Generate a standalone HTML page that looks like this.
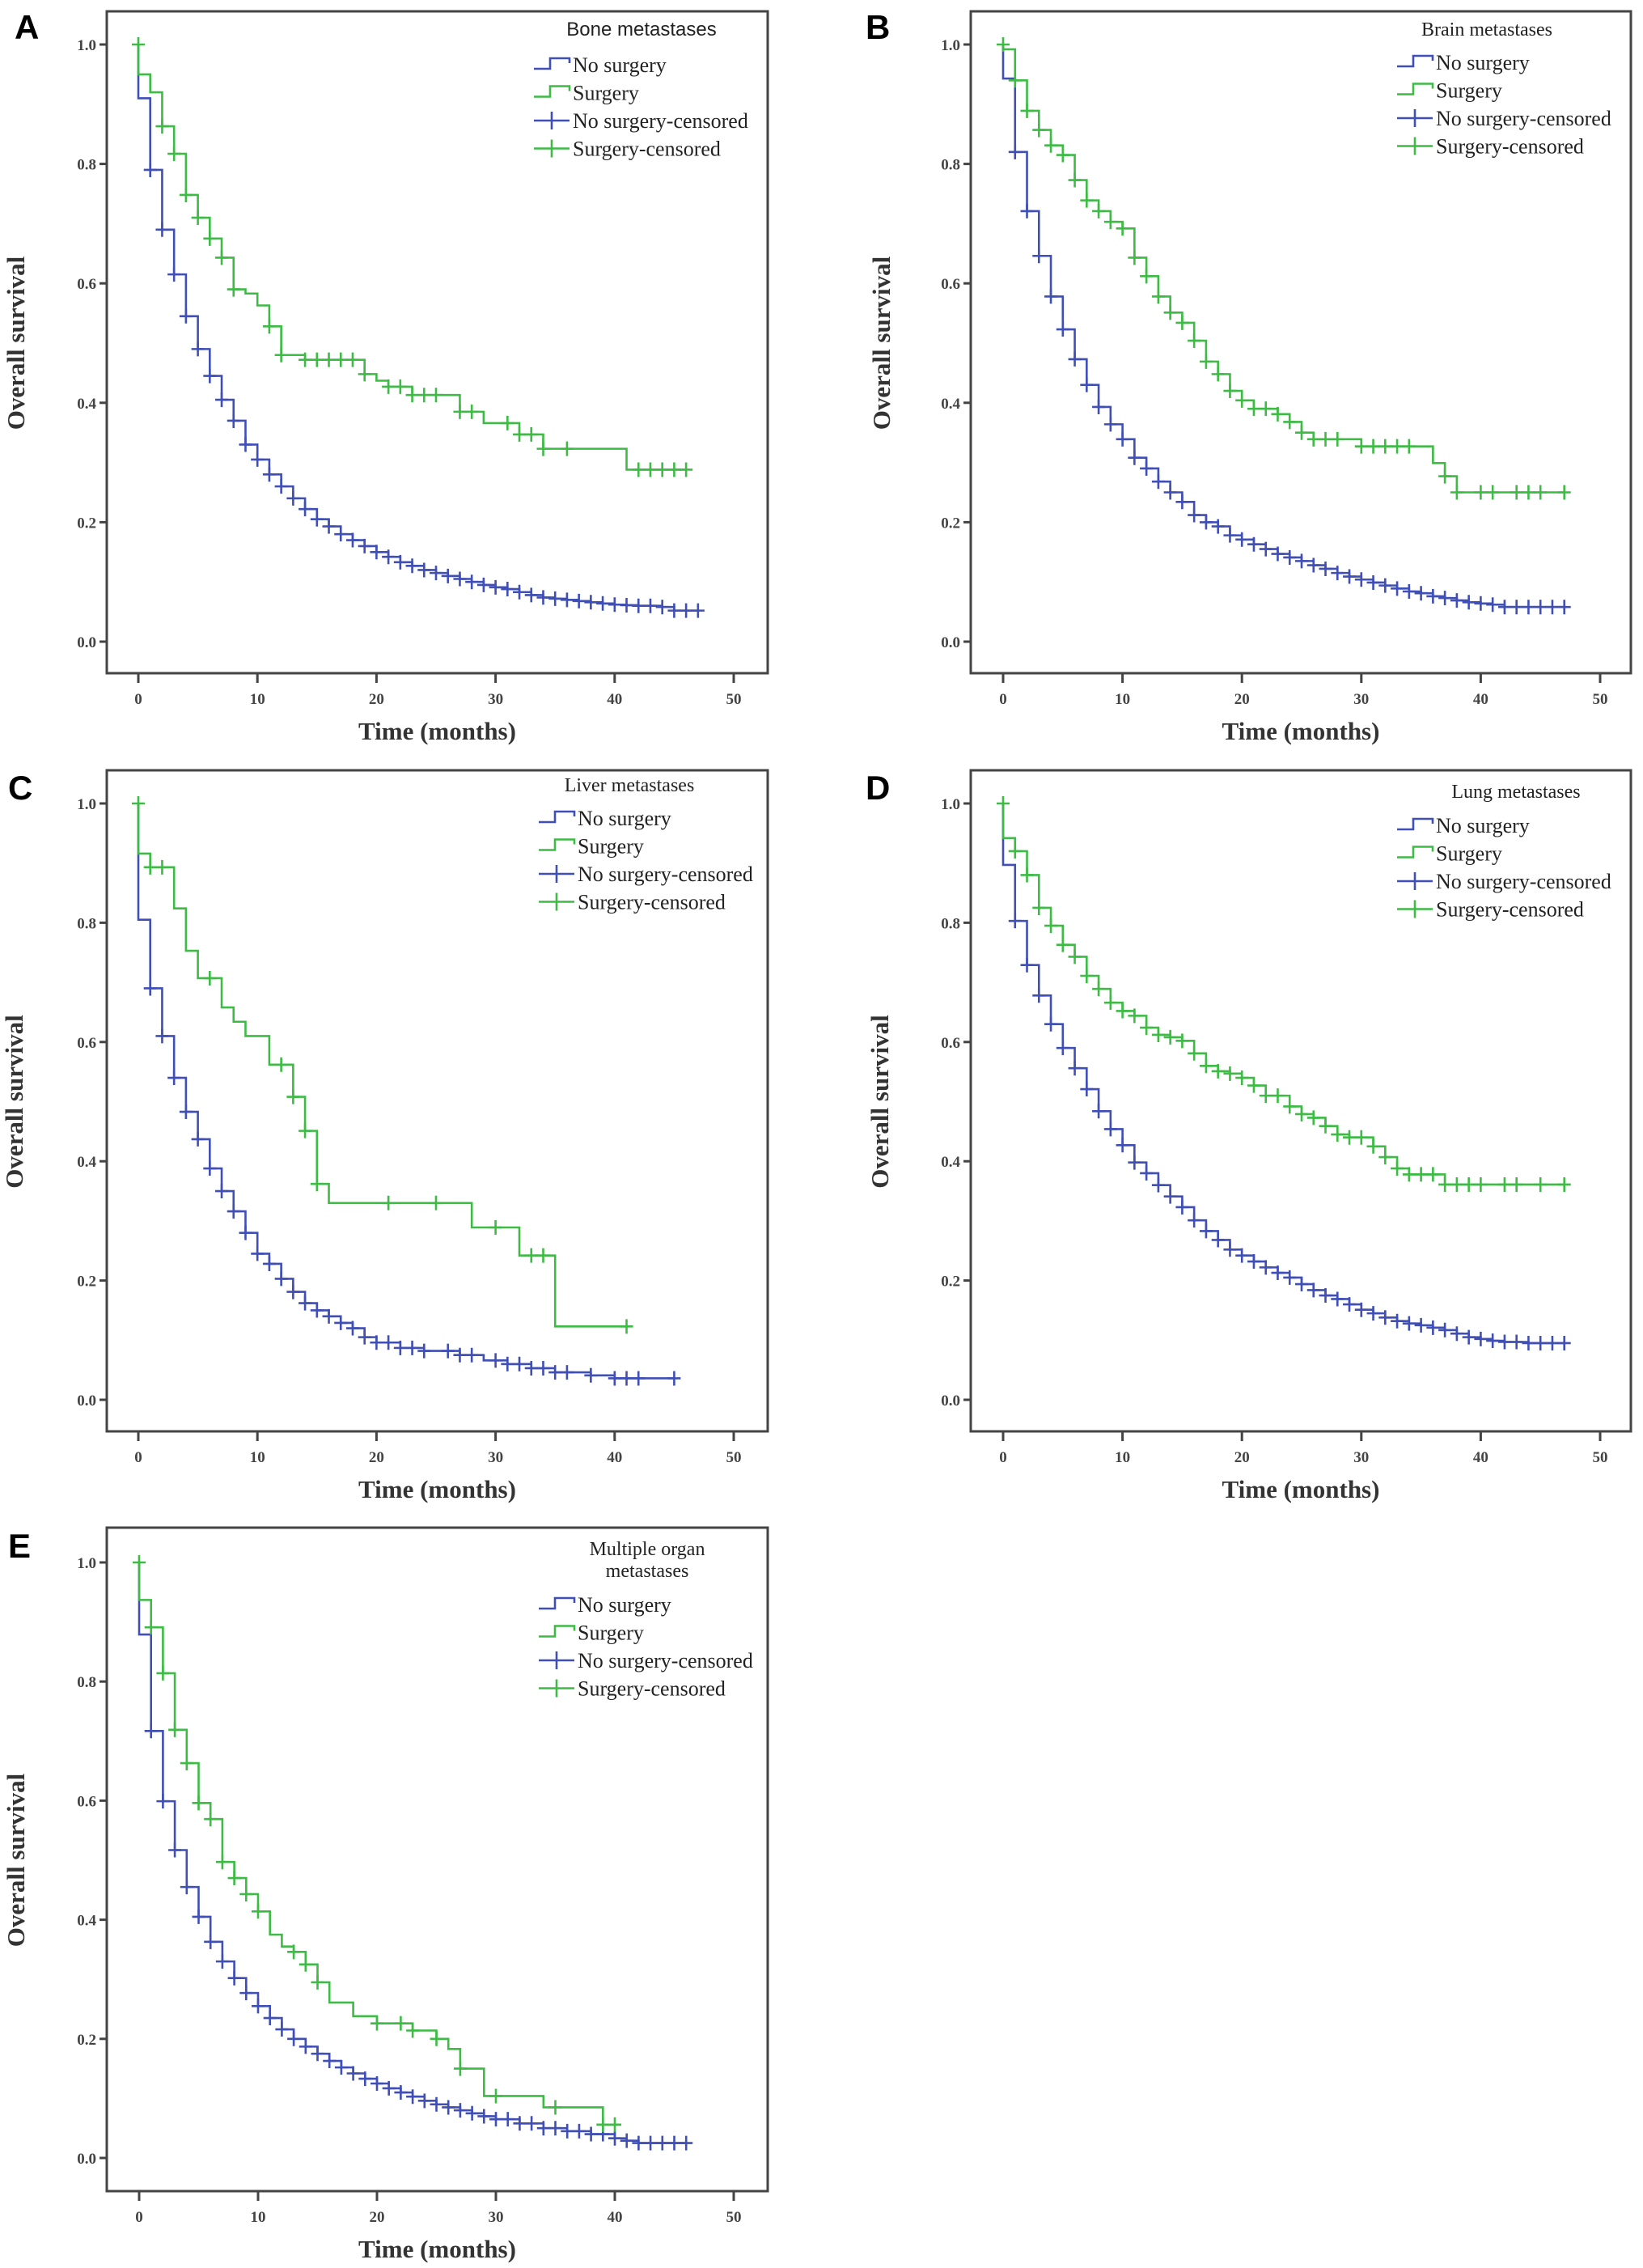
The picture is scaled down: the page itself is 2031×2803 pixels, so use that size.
<!DOCTYPE html>
<html><head><meta charset="utf-8">
<style>
html,body{margin:0;padding:0;background:#fff;}
svg{display:block;}
.tick{font-family:"Liberation Serif",serif;font-weight:bold;font-size:19px;fill:#444;}
.ttl{font-family:"Liberation Serif",serif;font-weight:bold;font-size:31px;fill:#333;}
.leg{font-family:"Liberation Serif",serif;font-size:26px;fill:#222;}
.lt{font-family:"Liberation Serif",serif;font-size:24px;fill:#222;}
.lts{font-family:"Liberation Sans",sans-serif;font-size:24px;fill:#222;}
.pl{font-family:"Liberation Sans",sans-serif;font-weight:bold;font-size:42px;fill:#000;}
</style></head>
<body>
<svg id="fig" width="2031" height="2803" viewBox="0 0 2031 2803" xmlns="http://www.w3.org/2000/svg"></svg>
<script>
// ---- data ----
const xTicks = [0,10,20,30,40,50];
const yTicks = [0,0.2,0.4,0.6,0.8,1.0];
const legendLabels = ["No surgery","Surgery","No surgery-censored","Surgery-censored"];
const panelTitles = [["Bone metastases"],["Brain metastases"],["Liver metastases"],["Lung metastases"],["Multiple organ","metastases"]];

// Panel A
const aNoT = [0,1,2,3,4,5,6,7,8,9,10,11,12,13,14,15,16,17,18,19,20,21,22,23,24,25,26,27,28,29,30,31,32,33,34,35,36,37,38,39,40,41,42,44,45];
const aNoS = [0.91,0.79,0.69,0.615,0.545,0.49,0.445,0.405,0.37,0.33,0.305,0.28,0.26,0.24,0.222,0.205,0.193,0.18,0.17,0.16,0.15,0.142,0.133,0.127,0.12,0.115,0.11,0.105,0.10,0.095,0.091,0.088,0.083,0.078,0.074,0.072,0.07,0.068,0.066,0.064,0.062,0.061,0.06,0.058,0.052];
const aNoEnd = 47;
const aNoC = [1,2,3,4,5,6,7,8,9,10,11,12,13,14,15,16,17,18,19,20,21,22,23,24,25,26,27,28,29,30,31,32,33,34,35,36,37,38,39,40,41,42,43,44,45,46,47];
const aSuT = [0,1,2,3,4,5,6,7,8,9,10,11,12,14,19,20,21,23,27,29,32,34,41];
const aSuS = [0.95,0.92,0.863,0.817,0.748,0.71,0.675,0.643,0.59,0.583,0.563,0.528,0.48,0.472,0.448,0.437,0.427,0.413,0.385,0.366,0.347,0.323,0.288];
const aSuEnd = 46;
const aSuC = [0,2,3,4,5,6,7,8,11,12,14,15,16,17,18,19,21,22,23,24,25,27,28,31,32,33,34,36,42,43,44,45,46];

// Panel B
const bNoT = [0,1,2,3,4,5,6,7,8,9,10,11,12,13,14,15,16,17,18,19,20,21,22,23,24,25,26,27,28,29,30,31,32,33,34,35,36,37,38,39,40,41,42];
const bNoS = [0.943,0.82,0.721,0.646,0.578,0.523,0.473,0.43,0.393,0.364,0.339,0.308,0.29,0.268,0.25,0.234,0.212,0.2,0.193,0.178,0.171,0.163,0.155,0.147,0.141,0.135,0.128,0.122,0.115,0.109,0.104,0.099,0.094,0.089,0.084,0.081,0.076,0.073,0.069,0.066,0.064,0.062,0.058];
const bNoEnd = 47;
const bNoC = [1,2,3,4,5,6,7,8,9,10,11,12,13,14,15,16,17,18,19,20,21,22,23,24,25,26,27,28,29,30,31,32,33,34,35,36,37,38,39,40,41,42,43,44,45,46,47];
const bSuT = [0,1,2,3,4,5,6,7,8,9,10,11,12,13,14,15,16,17,18,19,20,21,23,24,25,26,30,36,37,38];
const bSuS = [0.992,0.94,0.889,0.857,0.831,0.815,0.773,0.739,0.721,0.703,0.692,0.643,0.612,0.578,0.551,0.534,0.504,0.469,0.448,0.42,0.404,0.39,0.381,0.368,0.35,0.339,0.327,0.299,0.277,0.25];
const bSuEnd = 47;
const bSuC = [0,1,2,3,4,5,6,7,8,9,10,11,12,13,14,15,16,17,18,19,20,21,22,23,24,25,26,27,28,30,31,32,33,34,37,38,40,41,43,44,45,47];

// Panel C
const cNoT = [0,1,2,3,4,5,6,7,8,9,10,11,12,13,14,15,16,17,18,19,20,22,24,27,29,31,33,35,38,40];
const cNoS = [0.805,0.69,0.61,0.54,0.483,0.437,0.388,0.35,0.316,0.28,0.245,0.228,0.203,0.181,0.162,0.15,0.14,0.129,0.12,0.105,0.096,0.087,0.082,0.075,0.066,0.06,0.053,0.046,0.041,0.036];
const cNoEnd = 45;
const cNoC = [1,2,3,4,5,6,7,8,9,10,11,12,13,14,15,16,17,18,19,20,21,22,23,24,26,27,28,30,31,32,33,34,35,36,38,40,41,42,45];
const cSuT = [0,1,3,4,5,7,8,9,11,13,14,15,16,28,32,35];
const cSuS = [0.916,0.893,0.824,0.753,0.707,0.658,0.634,0.61,0.562,0.508,0.451,0.362,0.33,0.289,0.242,0.123];
const cSuEnd = 41;
const cSuC = [0,1,2,6,12,13,14,15,21,25,30,33,34,41];

// Panel D
const dNoT = [0,1,2,3,4,5,6,7,8,9,10,11,12,13,14,15,16,17,18,19,20,21,22,23,24,25,26,27,28,29,30,31,32,33,34,35,36,37,38,39,40,41,42,44];
const dNoS = [0.897,0.803,0.729,0.678,0.63,0.59,0.556,0.521,0.484,0.454,0.427,0.398,0.38,0.36,0.341,0.323,0.301,0.283,0.268,0.252,0.242,0.232,0.222,0.213,0.205,0.194,0.184,0.175,0.169,0.16,0.151,0.145,0.138,0.132,0.128,0.125,0.121,0.117,0.111,0.105,0.102,0.099,0.097,0.095];
const dNoEnd = 47;
const dNoC = [1,2,3,4,5,6,7,8,9,10,11,12,13,14,15,16,17,18,19,20,21,22,23,24,25,26,27,28,29,30,31,32,33,34,35,36,37,38,39,40,41,42,43,44,45,46,47];
const dSuT = [0,1,2,3,4,5,6,7,8,9,10,11,12,13,14,15,16,17,18,19,20,21,22,24,25,26,27,28,29,31,32,33,34,37];
const dSuS = [0.942,0.92,0.88,0.825,0.795,0.763,0.743,0.711,0.689,0.666,0.652,0.644,0.624,0.612,0.608,0.602,0.581,0.56,0.551,0.547,0.54,0.527,0.51,0.492,0.479,0.473,0.459,0.445,0.44,0.425,0.407,0.388,0.378,0.361];
const dSuEnd = 47;
const dSuC = [0,1,2,3,4,5,6,7,8,9,10,11,12,13,14,15,16,17,18,19,20,21,22,23,24,25,26,27,28,29,30,31,32,33,34,35,36,37,38,39,40,42,43,45,47];

// Panel E
const eNoT = [0,1,2,3,4,5,6,7,8,9,10,11,12,13,14,15,16,17,18,19,20,21,22,23,24,25,26,27,28,29,30,32,34,36,38,40,41,42];
const eNoS = [0.879,0.717,0.599,0.517,0.455,0.405,0.363,0.33,0.302,0.277,0.255,0.235,0.216,0.2,0.187,0.175,0.163,0.152,0.142,0.133,0.125,0.117,0.11,0.103,0.096,0.09,0.085,0.08,0.075,0.07,0.065,0.058,0.05,0.045,0.04,0.033,0.029,0.025];
const eNoEnd = 46;
const eNoC = [1,2,3,4,5,6,7,8,9,10,11,12,13,14,15,16,17,18,19,20,21,22,23,24,25,26,27,28,29,30,31,32,33,34,35,36,37,38,39,40,41,42,43,44,45,46];
const eSuT = [0,1,2,3,4,5,6,7,8,9,10,11,12,13,14,15,16,18,20,23,25,26,27,29,34,39];
const eSuS = [0.937,0.891,0.814,0.719,0.663,0.596,0.569,0.497,0.47,0.443,0.414,0.375,0.355,0.346,0.325,0.295,0.261,0.238,0.226,0.214,0.2,0.183,0.15,0.104,0.085,0.056];
const eSuEnd = 40;
const eSuC = [0,1,2,3,4,5,6,7,8,9,10,13,14,15,20,22,23,25,27,30,35,39,40];

// ---- layout ----
const panels = [
 {letter:"A",bx:132,by:14,bw:817,bh:818,x0:171,x50:907,y1:55,y0:793,lx:18,ly:48,ytx:30,legX:660,legY:80,ttlX:793,ttlY:44,sans:true,
  no:[aNoT,aNoS,aNoEnd,aNoC],su:[aSuT,aSuS,aSuEnd,aSuC]},
 {letter:"B",bx:1200,by:14,bw:816,bh:818,x0:1240,x50:1978,y1:55,y0:793,lx:1070,ly:48,ytx:1100,legX:1727,legY:77,ttlX:1838,ttlY:44,
  no:[bNoT,bNoS,bNoEnd,bNoC],su:[bSuT,bSuS,bSuEnd,bSuC]},
 {letter:"C",bx:132,by:952,bw:817,bh:817,x0:171,x50:907,y1:993,y0:1730,lx:10,ly:988,ytx:28,legX:666,legY:1011,ttlX:778,ttlY:978,
  no:[cNoT,cNoS,cNoEnd,cNoC],su:[cSuT,cSuS,cSuEnd,cSuC]},
 {letter:"D",bx:1200,by:952,bw:816,bh:817,x0:1240,x50:1978,y1:993,y0:1730,lx:1070,ly:988,ytx:1098,legX:1727,legY:1020,ttlX:1874,ttlY:986,
  no:[dNoT,dNoS,dNoEnd,dNoC],su:[dSuT,dSuS,dSuEnd,dSuC]},
 {letter:"E",bx:132,by:1888,bw:817,bh:820,x0:172,x50:907,y1:1931,y0:2667,lx:10,ly:1925,ytx:30,legX:666,legY:1983,ttlX:800,ttlY:1922,
  no:[eNoT,eNoS,eNoEnd,eNoC],su:[eSuT,eSuS,eSuEnd,eSuC]}
];
const BLUE="#3f4fb5", GREEN="#3dbb45";
const NS="http://www.w3.org/2000/svg";
const svg=document.getElementById('fig');
function mk(tag,attrs,parent){const e=document.createElementNS(NS,tag);for(const k in attrs)e.setAttribute(k,attrs[k]);(parent||svg).appendChild(e);return e;}

function valueAt(T,S,t){let v=1;for(let i=0;i<T.length;i++){if(T[i]<=t)v=S[i];}return v;}

panels.forEach((p,pi)=>{
  const g=mk('g',{});
  
  
  const sx=t=>p.x0+(p.x50-p.x0)*t/50;
  const sy=v=>p.y0+(p.y1-p.y0)*v;
  const box=mk('rect',{x:p.bx,y:p.by,width:p.bw,height:p.bh,fill:'none',stroke:'#444','stroke-width':3},g);
  
  
  const lt=mk('text',{x:p.lx,y:p.ly,class:'pl'},g);lt.textContent=p.letter;
  
  
  yTicks.forEach(v=>{
    mk('line',{x1:p.bx-9,x2:p.bx,y1:sy(v),y2:sy(v),stroke:'#444','stroke-width':3},g);
    const t=mk('text',{x:p.bx-13,y:sy(v)+7,class:'tick','text-anchor':'end'},g);t.textContent=v.toFixed(1);
    
    
  });
  xTicks.forEach(v=>{
    mk('line',{x1:sx(v),x2:sx(v),y1:p.by+p.bh,y2:p.by+p.bh+12,stroke:'#444','stroke-width':3},g);
    const t=mk('text',{x:sx(v),y:p.by+p.bh+38,class:'tick','text-anchor':'middle'},g);t.textContent=v;
    
    
  });
  const xt=mk('text',{x:(p.bx+p.bw/2),y:p.by+p.bh+82,class:'ttl','text-anchor':'middle'},g);xt.textContent='Time (months)';
  
  
  const cy=(p.y0+p.y1)/2;
  const yt=mk('text',{x:p.ytx,y:cy,class:'ttl','text-anchor':'middle',transform:`rotate(-90 ${p.ytx} ${cy})`},g);yt.textContent='Overall survival';
  
  

  [[p.no,BLUE,'no-surgery'],[p.su,GREEN,'surgery']].forEach(([ser,col,nm])=>{
    const [T,S,end,C]=ser;
    let d=`M${sx(0)},${sy(1)}`;let cur=1;
    for(let i=0;i<T.length;i++){d+=` L${sx(T[i])},${sy(cur)} L${sx(T[i])},${sy(S[i])}`;cur=S[i];}
    d+=` L${sx(end)},${sy(cur)}`;
    const path=mk('path',{d:d,fill:'none',stroke:col,'stroke-width':2.6},g);
    
    
    C.forEach(t=>{
      const v=(t===0)?1:valueAt(T,S,t);
      const x=sx(t),y=sy(v);
      const m=mk('path',{d:`M${x-8},${y} H${x+8} M${x},${y-9} V${y+9}`,stroke:col,'stroke-width':2.6,fill:'none'},g);
      
      
    });
  });

  // legend
  const lg=mk('g',{},g);
  
  
  panelTitles[pi].forEach((s,k)=>{
    const t=mk('text',{x:p.ttlX,y:p.ttlY+k*27,class:p.sans?'lts':'lt','text-anchor':'middle'},lg);t.textContent=s;
    
    
  });
  const rowH=34.5;
  legendLabels.forEach((lab,k)=>{
    const y=p.legY+k*rowH, x=p.legX, col=(k%2===0)?BLUE:GREEN;
    let d;
    if(k<2) d=`M${x},${y+5} H${x+20} V${y-8} H${x+44} V${y-2}`;
    else d=`M${x},${y} H${x+44} M${x+22},${y-11} V${y+11}`;
    const ic=mk('path',{d:d,stroke:col,'stroke-width':2.6,fill:'none'},lg);
    
    
    const t=mk('text',{x:x+48,y:y+9,class:'leg'},lg);t.textContent=lab;
    
    
  });
});
</script>
</body></html>
